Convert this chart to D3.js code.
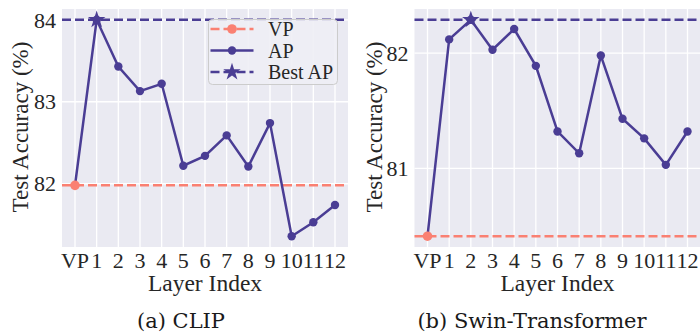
<!DOCTYPE html>
<html>
<head>
<meta charset="utf-8">
<script src="https://cdn.jsdelivr.net/npm/d3@7"></script>
<style>
  body { margin: 0; background: #fff; }
  svg { display: block; }
</style>
</head>
<body>
<svg id="chart" width="700" height="333"></svg>
<script>
// layer labels on the x axis
var layers = ["VP", "1", "2", "3", "4", "5", "6", "7", "8", "9", "10", "11", "12"];

// (a) CLIP
var clipVP = 81.98;
var clipAP = [84.0, 83.43, 83.13, 83.22, 82.22, 82.34, 82.59, 82.21, 82.74, 81.36, 81.53, 81.74];
var clipTicks = [82, 83, 84];

// (b) Swin-Transformer
var swinVP = 80.41;
var swinAP = [82.12, 82.29, 82.03, 82.21, 81.89, 81.32, 81.13, 81.98, 81.43, 81.26, 81.03, 81.32];
var swinTicks = [81, 82];

var purple = "#4a3d94";
var salmon = "#fa8072";
var bg = "#eaeaf2";
var serif = "Times, FreeSerif, Tinos, serif";
var lw = 2.5;

var svg = d3.select("#chart");

function panel(opt) {
    var g = svg.append("g");
    var x = d3.scalePoint().domain(layers).range([opt.x0 + 13, opt.x1 - 13]);
    var lo = Math.min(opt.vp, d3.min(opt.ap));
    var hi = Math.max(opt.vp, d3.max(opt.ap));
    var pad = (hi - lo) * 0.05;
    var y = d3.scaleLinear().domain([lo - pad, hi + pad]).range([opt.y1, opt.y0]);

    g.append("rect")
        .attr("x", opt.x0).attr("y", opt.y0)
        .attr("width", opt.x1 - opt.x0).attr("height", opt.y1 - opt.y0)
        .attr("fill", bg);

    // grid
    g.selectAll(".vg").data(layers).enter().append("line")
        .attr("x1", function (d) { return x(d); }).attr("x2", function (d) { return x(d); })
        .attr("y1", opt.y0).attr("y2", opt.y1)
        .attr("stroke", "#fff").attr("stroke-width", 1.3);
    g.selectAll(".hg").data(opt.ticks).enter().append("line")
        .attr("x1", opt.x0).attr("x2", opt.x1)
        .attr("y1", function (d) { return y(d); }).attr("y2", function (d) { return y(d); })
        .attr("stroke", "#fff").attr("stroke-width", 1.3);

    // tick labels
    g.selectAll(".xt").data(layers).enter().append("text")
        .attr("x", function (d) { return x(d); }).attr("y", 267.5)
        .attr("text-anchor", "middle")
        .style("font-family", serif).style("font-size", "22px").style("fill", "#262626")
        .text(function (d) { return d; });
    g.selectAll(".yt").data(opt.ticks).enter().append("text")
        .attr("x", opt.x0 - 6).attr("y", function (d) { return y(d); })
        .attr("dy", "0.35em")
        .attr("text-anchor", "end")
        .style("font-family", serif).style("font-size", "22px").style("fill", "#262626")
        .text(function (d) { return d; });

    g.append("text")
        .attr("x", (opt.x0 + opt.x1) / 2).attr("y", 291)
        .attr("text-anchor", "middle")
        .style("font-family", serif).style("font-size", "23.5px").style("fill", "#262626")
        .text("Layer Index");
    g.append("text")
        .attr("transform", "translate(" + opt.ylabX + ",127) rotate(-90)")
        .attr("text-anchor", "middle")
        .style("font-family", serif).style("font-size", "23px").style("fill", "#262626")
        .text("Test Accuracy (%)");

    // VP baseline
    g.append("line")
        .attr("x1", opt.x0).attr("x2", opt.x1)
        .attr("y1", y(opt.vp)).attr("y2", y(opt.vp))
        .attr("stroke", salmon).attr("stroke-width", lw)
        .attr("stroke-dasharray", "9,4");

    // AP line, starting from the VP point
    var pts = [{ k: "VP", v: opt.vp }];
    opt.ap.forEach(function (v, i) { pts.push({ k: layers[i + 1], v: v }); });
    var line = d3.line().x(function (d) { return x(d.k); }).y(function (d) { return y(d.v); });
    g.append("path").datum(pts)
        .attr("d", line).attr("fill", "none")
        .attr("stroke", purple).attr("stroke-width", lw);
    g.selectAll(".ap").data(pts.slice(1)).enter().append("circle")
        .attr("cx", function (d) { return x(d.k); }).attr("cy", function (d) { return y(d.v); })
        .attr("r", 4.2).attr("fill", purple);

    g.append("circle")
        .attr("cx", x("VP")).attr("cy", y(opt.vp))
        .attr("r", 4.8).attr("fill", salmon);

    // best AP
    var best = d3.max(opt.ap);
    var bi = opt.ap.indexOf(best);
    g.append("line")
        .attr("x1", opt.x0).attr("x2", opt.x1)
        .attr("y1", y(best)).attr("y2", y(best))
        .attr("stroke", purple).attr("stroke-width", lw)
        .attr("stroke-dasharray", "9,4");
    g.append("path")
        .attr("d", d3.symbol().type(d3.symbolStar).size(95)())
        .attr("transform", "translate(" + x(layers[bi + 1]) + "," + y(best) + ")")
        .attr("fill", purple);

    svg.append("text")
        .attr("x", opt.capX).attr("y", 328)
        .attr("text-anchor", "middle")
        .style("font-family", "'DejaVu Serif', serif").style("font-size", "21px").style("fill", "#1a1a1a")
        .text(opt.caption);
}

panel({ x0: 62, x1: 348, y0: 9, y1: 247, vp: clipVP, ap: clipAP, ticks: clipTicks,
    ylabX: 28, capX: 181, caption: "(a) CLIP" });
panel({ x0: 414.5, x1: 700.5, y0: 9, y1: 247, vp: swinVP, ap: swinAP, ticks: swinTicks,
    ylabX: 382, capX: 532, caption: "(b) Swin-Transformer" });

// legend on the left panel
var leg = svg.append("g").attr("transform", "translate(208.5,19.5)");
leg.append("rect")
    .attr("width", 129).attr("height", 65).attr("rx", 4)
    .attr("fill", "#eeeef5").attr("fill-opacity", 0.9)
    .attr("stroke", "#cccccc").attr("stroke-width", 1);
var items = [
    { name: "VP", color: salmon, dash: "9,4", mark: "dot" },
    { name: "AP", color: purple, dash: null, mark: "dot" },
    { name: "Best AP", color: purple, dash: "9,4", mark: "star" }
];
items.forEach(function (d, i) {
    var cy = 9.5 + i * 21.5;
    leg.append("line")
        .attr("x1", 2).attr("x2", 45).attr("y1", cy).attr("y2", cy)
        .attr("stroke", d.color).attr("stroke-width", lw)
        .attr("stroke-dasharray", d.dash);
    if (d.mark == "dot") {
        leg.append("circle").attr("cx", 23.5).attr("cy", cy)
            .attr("r", i == 0 ? 4.8 : 4.2).attr("fill", d.color);
    } else {
        leg.append("path")
            .attr("d", d3.symbol().type(d3.symbolStar).size(95)())
            .attr("transform", "translate(23.5," + cy + ")")
            .attr("fill", d.color);
    }
    leg.append("text")
        .attr("x", 59.5).attr("y", cy).attr("dy", "0.35em")
        .style("font-family", serif).style("font-size", "20px").style("fill", "#262626")
        .text(d.name);
});
</script>
</body>
</html>
